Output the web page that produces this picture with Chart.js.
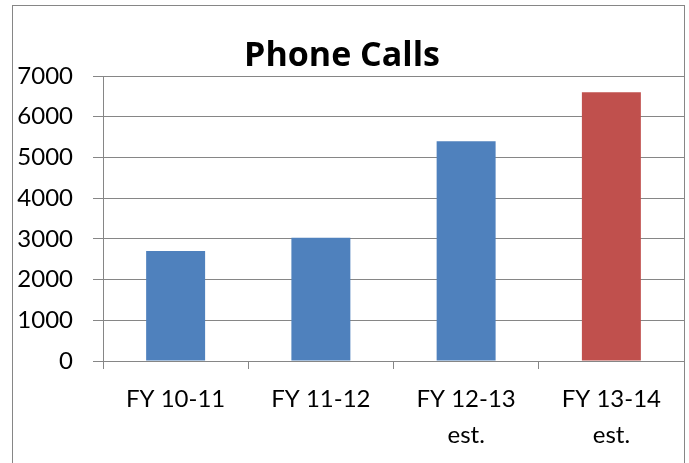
<!DOCTYPE html>
<html>
<head>
<meta charset="utf-8">
<script src="https://cdn.jsdelivr.net/npm/chart.js@4/dist/chart.umd.min.js"></script>
<style>
  html, body { margin: 0; padding: 0; background: #fff; }
  #wrap { width: 689px; height: 463px; }
</style>
</head>
<body>
<div id="wrap"><canvas id="callsChart" width="689" height="463"></canvas></div>
<script>
const categories = [['FY 10-11'], ['FY 11-12'], ['FY 12-13', 'est.'], ['FY 13-14', 'est.']];
const calls = [2700, 3025, 5400, 6600];
const barColors = ['#4F81BD', '#4F81BD', '#4F81BD', '#C0504D'];
const yTicks = [0, 1000, 2000, 3000, 4000, 5000, 6000, 7000];

const lineGray = '#868686';

// outer frame like the office chart box
const frame = {
    id: 'frame',
    afterDraw(chart) {
        const c = chart.ctx;
        c.save();
        c.strokeStyle = lineGray;
        c.lineWidth = 1;
        c.strokeRect(12.5, 5.5, 672, 480);
        c.restore();
    }
};

const ctx = document.getElementById('callsChart').getContext('2d');
new Chart(ctx, {
    type: 'bar',
    data: {
        labels: categories,
        datasets: [{
            label: 'Phone Calls',
            data: calls,
            backgroundColor: barColors,
            borderWidth: 0,
            categoryPercentage: 1,
            barPercentage: 0.406
        }]
    },
    options: {
        responsive: false,
        animation: false,
        layout: { padding: { left: 0, right: 5, top: 0, bottom: 0 } },
        plugins: {
            legend: { display: false },
            tooltip: { enabled: false },
            title: {
                display: true,
                text: 'Phone Calls',
                color: '#000',
                font: { family: 'Open Sans', size: 34, weight: 'bold', lineHeight: 1 },
                padding: { top: 39, bottom: 3 }
            }
        },
        scales: {
            x: {
                grid: {
                    offset: true,
                    drawOnChartArea: false,
                    drawTicks: true,
                    tickLength: 8,
                    color: lineGray
                },
                border: { color: lineGray, width: 1 },
                ticks: {
                    color: '#000',
                    padding: 12,
                    maxRotation: 0,
                    autoSkip: false,
                    font: { family: 'Lato', size: 24, lineHeight: 1.5 }
                },
                afterFit(scale) { scale.height = 102; }
            },
            y: {
                min: 0,
                max: 7000,
                afterBuildTicks(scale) {
                    scale.ticks = yTicks.map(v => ({ value: v }));
                },
                grid: {
                    color: lineGray,
                    tickLength: 10
                },
                border: { color: lineGray, width: 1 },
                ticks: {
                    color: '#000',
                    padding: 20,
                    font: { family: 'Lato', size: 24 },
                    callback: (v) => String(v)
                },
                afterFit(scale) { scale.width = 103; }
            }
        }
    },
    plugins: [frame]
});
</script>
</body>
</html>
